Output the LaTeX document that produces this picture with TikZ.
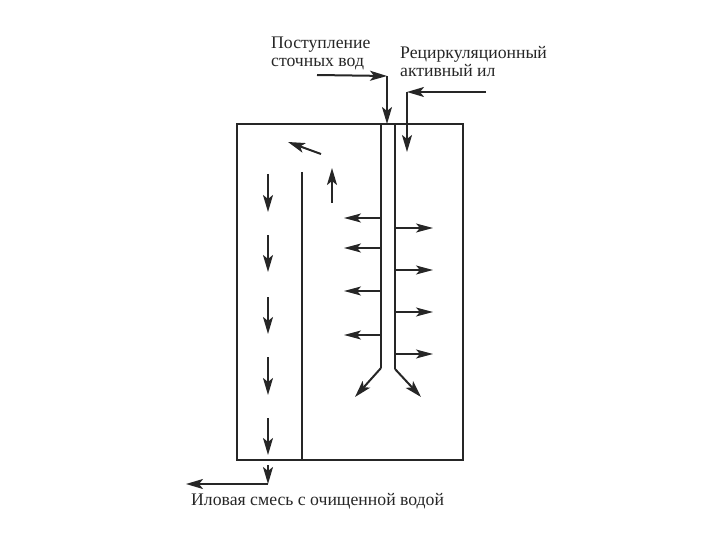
\documentclass[tikz,border=0pt]{standalone}
\usepackage{fontspec}
\setmainfont{Liberation Serif}
\usetikzlibrary{arrows.meta, positioning, calc}
\tikzset{
  wall/.style={line width=1.8pt, black!85},
  flow/.style={line width=2pt, black!85, -{Stealth[length=17pt, width=10pt, inset=4pt]}},
  thinflow/.style={line width=1.1pt, black!85, -{Stealth[length=17pt, width=9pt, inset=4pt]}},
  caption/.style={font=\fontsize{17.7}{18}\selectfont, align=left, inner sep=0pt, text=black!85}
}
\begin{document}
\begin{tikzpicture}[x=1pt, y=-1pt]
\useasboundingbox (0,0) rectangle (720,540);
% Tank and inner baffle
\draw[wall] (237,124) rectangle (463,460);
\draw[wall] (302,172) -- (302,460);

% Central pipe
\draw[wall, line width=2.2pt] (381,124) -- (381,368);
\draw[wall, line width=2.2pt] (395,124) -- (395,369);
\draw[flow] (381,368) -- (355,397);
\draw[flow] (395,369) -- (421,397);

% Side outlets of the pipe
\foreach \y in {218,248,291,335}
  \draw[thinflow] (381,\y) -- (344,\y);
\foreach \y in {228,270,312,354}
  \draw[thinflow] (395,\y) -- (433,\y);

% Influent
\coordinate (inA) at (317,75);
\coordinate (inB) at (387,76);
\coordinate (inC) at (387,124);
\draw[flow] (inA) -- (inB);
\draw[flow] (inB) -- (inC);

% Return sludge
\coordinate (retA) at (486,92);
\coordinate (retB) at (407,92);
\coordinate (retC) at (407,152);
\draw[flow] (retA) -- (retB);
\draw[flow] (retB) -- (retC);

% Circulation around the baffle
\draw[flow] (332,203) -- (332,168);
\draw[flow] (321,154) -- (288,142);
\foreach \a/\b in {174/212,235/272,297/334,357/395,418/455}
  \draw[flow] (268,\a) -- (268,\b);

% Effluent
\coordinate (outA) at (268,465);
\coordinate (outB) at (268,484);
\coordinate (outC) at (186,484);
\draw[flow] (outA) -- (outB);
\draw[flow] (outB) -- (outC);

% Labels
\node[caption, anchor=west] (inlet) at (271,53) {Поступление\\сточных вод};
\node[caption, anchor=west] (sludge) at (400,62) {Рециркуляционный\\активный ил};
\node[caption, anchor=west] (mixture) at (191,501) {Иловая смесь с очищенной водой};
\end{tikzpicture}
\end{document}
